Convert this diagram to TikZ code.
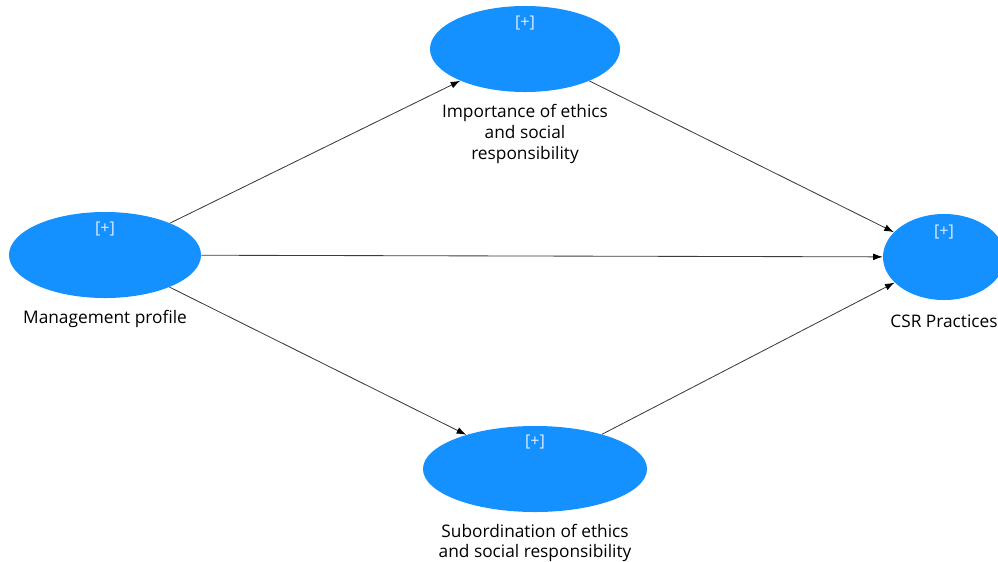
\documentclass[tikz,border=0pt]{standalone}
\usepackage{fontspec}
\setmainfont{Open Sans}
\usetikzlibrary{shapes.geometric,arrows.meta}

\definecolor{lvblue}{RGB}{20,145,255}
\definecolor{plusgray}{RGB}{222,236,255}
\definecolor{pathgray}{RGB}{60,60,60}

\begin{document}
\begin{tikzpicture}[x=0.025cm,y=-0.025cm,
    lv/.style={ellipse,fill=lvblue,inner sep=0pt},
    plus/.style={text=plusgray,font=\fontsize{11.5}{13}\selectfont},
    lab/.style={align=center,font=\fontsize{12.3}{14.8}\selectfont},
    path/.style={draw=pathgray,line width=0.6pt,-{Latex[length=2.4mm,width=1.7mm,color=black]}}]
    \useasboundingbox (0,0) rectangle (998,561);

    % latent variables
    \node[lv,minimum width=4.8cm,minimum height=2.15cm] (mp) at (105,255) {};
    \node[lv,minimum width=4.75cm,minimum height=2.15cm] (imp) at (525,49) {};
    \node[lv,minimum width=5.6cm,minimum height=2.15cm] (sub) at (535,469) {};
    \node[lv,minimum width=3.05cm,minimum height=2.15cm] (csr) at (944,257) {};

    % [+] markers
    \foreach \n/\x/\y in {pmp/105/229,pimp/525/23,psub/535/442,pcsr/944/232}
        {\node[plus] (\n) at (\x,\y) {[+]};}

    % names
    \node[lab] (lmp) at (105,319) {Management profile};
    \node[lab] (limp) at (525,134) {Importance of ethics\\and social\\responsibility};
    \node[lab] (lsub) at (535,543) {Subordination of ethics\\and social responsibility};
    \node[lab] (lcsr) at (944,321) {CSR Practices};

    % paths
    \draw[path] (mp) -- (imp);
    \draw[path] (mp) -- (csr);
    \draw[path] (mp) -- (sub);
    \draw[path] (imp) -- (csr);
    \draw[path] (sub) -- (csr);
\end{tikzpicture}
\end{document}
